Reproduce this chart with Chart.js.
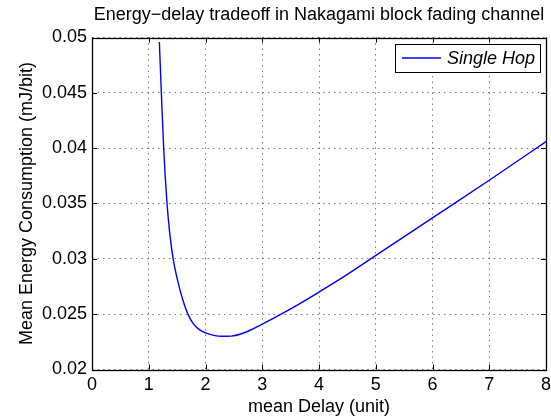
<!DOCTYPE html>
<html>
<head>
<meta charset="utf-8">
<script src="https://cdn.jsdelivr.net/npm/chart.js@4.4.1/dist/chart.umd.min.js"></script>
<style>
  body { margin: 0; background: #fff; }
  canvas { display: block; }
</style>
</head>
<body>
<canvas id="myChart" width="551" height="416"></canvas>
<script>
// values
const delay = [1.187, 1.222, 1.263, 1.322, 1.37, 1.43, 1.516, 1.6, 1.686, 1.79, 1.88, 2.0, 2.145, 2.29, 2.45, 2.67, 3.0, 3.3, 3.67, 4.0, 4.41, 4.91, 6.0, 7.0, 8.0];
const energy = [0.0496, 0.045, 0.04, 0.035, 0.0323, 0.03, 0.0279, 0.0263, 0.02505, 0.0241, 0.02365, 0.0233, 0.02308, 0.023, 0.02302, 0.0233, 0.0241, 0.02491, 0.02598, 0.027, 0.0283, 0.03, 0.0337, 0.0371, 0.0406];
const xTicks = [0, 1, 2, 3, 4, 5, 6, 7, 8];
const xTickLabels = ['0', '1', '2', '3', '4', '5', '6', '7', '8'];
const yTicks = [0.02, 0.025, 0.03, 0.035, 0.04, 0.045, 0.05];
const yTickLabels = ['0.02', '0.025', '0.03', '0.035', '0.04', '0.045', '0.05'];
const seriesLabel = 'Single Hop';

const fontFamily = "'Liberation Sans', Arial, Helvetica, sans-serif";

// matlab style box with ticks pointing inwards
const boxPlugin = {
  id: 'box',
  afterDatasetsDraw(chart) {
    const ctx = chart.ctx;
    const a = chart.chartArea;
    const xs = chart.scales.x, ys = chart.scales.y;
    ctx.save();
    ctx.strokeStyle = '#000';
    ctx.lineWidth = 1;
    ctx.beginPath();
    xTicks.forEach(v => {
      const px = Math.round(xs.getPixelForValue(v)) + 0.5;
      ctx.moveTo(px, a.bottom); ctx.lineTo(px, a.bottom - 5);
      ctx.moveTo(px, a.top); ctx.lineTo(px, a.top + 5);
    });
    yTicks.forEach(v => {
      const py = Math.round(ys.getPixelForValue(v)) + 0.5;
      ctx.moveTo(a.left, py); ctx.lineTo(a.left + 5, py);
      ctx.moveTo(a.right, py); ctx.lineTo(a.right - 5, py);
    });
    ctx.stroke();
    ctx.lineWidth = 1.3;
    ctx.strokeRect(Math.round(a.left) + 0.5, Math.round(a.top) + 0.5,
      Math.round(a.right - a.left), Math.round(a.bottom - a.top));
    ctx.restore();
  }
};

// legend box in the upper right corner
const legendPlugin = {
  id: 'boxLegend',
  afterDraw(chart) {
    const ctx = chart.ctx;
    const a = chart.chartArea;
    const ds = chart.data.datasets[0];
    ctx.save();
    ctx.font = 'italic 18px ' + fontFamily;
    const tw = ctx.measureText(ds.label).width;
    const w = 7 + 39 + 6 + tw + 5;
    const h = 28;
    const right = Math.round(a.right) - 6;
    const top = Math.round(a.top) + 6;
    const left = right - w;
    ctx.fillStyle = '#fff';
    ctx.fillRect(left, top, w, h);
    ctx.strokeStyle = '#000';
    ctx.lineWidth = 1;
    ctx.strokeRect(Math.round(left) + 0.5, top + 0.5, Math.round(w), h);
    ctx.strokeStyle = ds.borderColor;
    ctx.lineWidth = ds.borderWidth;
    ctx.beginPath();
    ctx.moveTo(left + 7, top + h / 2);
    ctx.lineTo(left + 46, top + h / 2);
    ctx.stroke();
    ctx.fillStyle = '#000';
    ctx.textBaseline = 'middle';
    ctx.fillText(ds.label, left + 52, top + h / 2 + 1);
    ctx.restore();
  }
};

const gridStyle = {
  color: 'rgba(0,0,0,0.5)',
  lineWidth: 1,
  drawTicks: false
};

var ctx = document.getElementById('myChart').getContext('2d');

var myChart = new Chart(ctx, {
  type: 'line',
  data: {
    datasets: [{
      label: seriesLabel,
      data: delay.map((d, i) => ({ x: d, y: energy[i] })),
      borderColor: 'rgb(0, 0, 255)',
      borderWidth: 1.4,
      pointRadius: 0,
      fill: false,
      cubicInterpolationMode: 'monotone'
    }]
  },
  options: {
    responsive: false,
    animation: false,
    layout: { padding: { left: 0, right: 0, top: 0, bottom: 0 } },
    plugins: {
      legend: { display: false },
      tooltip: { enabled: false },
      title: {
        display: true,
        fullSize: false,
        text: 'Energy\u2212delay tradeoff in Nakagami block fading channel',
        color: '#000',
        font: { family: fontFamily, size: 18, weight: 'normal', lineHeight: 1.2 },
        padding: { top: 4.5, bottom: 11.4 }
      }
    },
    scales: {
      x: {
        type: 'linear',
        min: 0,
        max: 8,
        afterBuildTicks: s => { s.ticks = xTicks.map(v => ({ value: v })); },
        afterFit: s => { s.height = 46.5; s.paddingRight = 5; },
        ticks: {
          color: '#000',
          padding: 5,
          maxRotation: 0,
          font: { family: fontFamily, size: 18 },
          callback: (v) => xTickLabels[xTicks.indexOf(v)]
        },
        grid: gridStyle,
        border: { display: false, dash: [1.5, 4] },
        title: {
          display: true,
          text: 'mean Delay (unit)',
          color: '#000',
          font: { family: fontFamily, size: 18, lineHeight: 1 },
          padding: 0
        }
      },
      y: {
        type: 'linear',
        min: 0.02,
        max: 0.05,
        afterBuildTicks: s => { s.ticks = yTicks.map(v => ({ value: v })); },
        afterFit: s => { s.width = 92; },
        ticks: {
          color: '#000',
          padding: 5,
          font: { family: fontFamily, size: 18 },
          callback: (v) => yTickLabels[yTicks.indexOf(v)]
        },
        grid: gridStyle,
        border: { display: false, dash: [1.5, 4] },
        title: {
          display: true,
          text: 'Mean Energy Consumption (mJ/bit)',
          color: '#000',
          font: { family: fontFamily, size: 18, lineHeight: 1.2 },
          padding: { top: 16, bottom: 0 }
        }
      }
    }
  },
  plugins: [boxPlugin, legendPlugin]
});
</script>
</body>
</html>
